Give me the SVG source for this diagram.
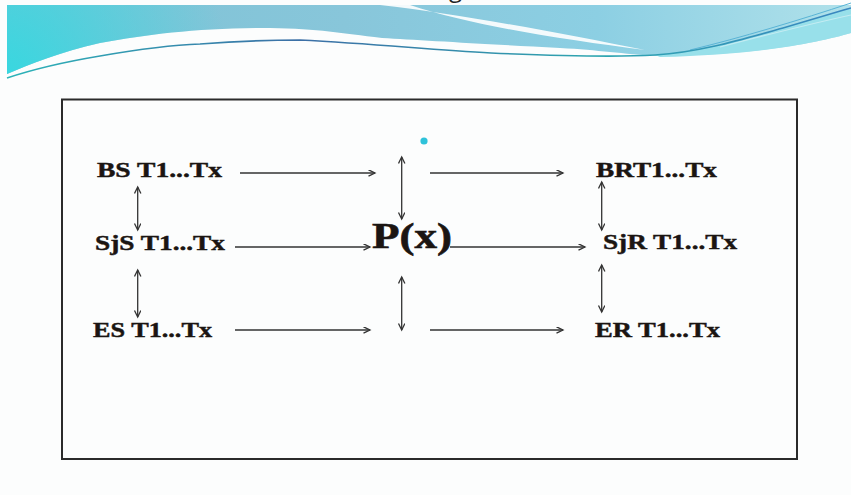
<svg xmlns="http://www.w3.org/2000/svg" width="851" height="495" viewBox="0 0 851 495">
  <defs>
    <linearGradient id="bandFill" x1="0" y1="0" x2="1" y2="0">
      <stop offset="0" stop-color="#7cc2d5"/>
      <stop offset="0.4" stop-color="#88c6da"/>
      <stop offset="0.7" stop-color="#8ccfe3"/>
      <stop offset="1" stop-color="#b0e1ea"/>
    </linearGradient>
    <radialGradient id="cyanGlow" cx="0" cy="80" r="230" gradientUnits="userSpaceOnUse">
      <stop offset="0" stop-color="#36d8e0" stop-opacity="1"/>
      <stop offset="1" stop-color="#36d8e0" stop-opacity="0"/>
    </radialGradient>
    <linearGradient id="lineStroke" x1="0" y1="0" x2="1" y2="0">
      <stop offset="0" stop-color="#2cb4b8"/>
      <stop offset="0.35" stop-color="#3c6fa6"/>
      <stop offset="0.7" stop-color="#2ea6b0"/>
      <stop offset="1" stop-color="#3a86c0"/>
    </linearGradient>
    <marker id="head" markerUnits="userSpaceOnUse" markerWidth="10" markerHeight="9" refX="7" refY="3.5" orient="auto-start-reverse">
      <path d="M0.5,0.3 L7,3.5 L0.5,6.7" fill="none" stroke="#333" stroke-width="1.3"/>
    </marker>
  </defs>
  <style>
    .lbl { font-family: "Liberation Serif", "Times New Roman", serif; font-weight: bold; font-size: 21px; fill: #1b1512; stroke: #1b1512; stroke-width: 0.45; }
    .big { font-family: "Liberation Serif", "Times New Roman", serif; font-weight: bold; font-size: 35px; fill: #1b1512; stroke: #1b1512; stroke-width: 0.6; }
    .arr { stroke: #333; stroke-width: 1.3; fill: none; marker-end: url(#head); }
    .dbl { stroke: #333; stroke-width: 1.3; fill: none; marker-start: url(#head); marker-end: url(#head); }
  </style>

  <rect width="851" height="495" fill="#fcfdfd"/>

  <!-- header swoosh -->
  <g id="banner">
    <text x="449" y="-3" font-family="Open Sans, sans-serif" font-size="24" fill="#222">g</text>
    <path d="M7,5 H851 V33 C820,42 760,55 660,56 C620,54 600,50 560,48 C480,44 420,40 382,38 C340,33 320,29 270,28 C200,28 150,34 100,43 C60,52 30,64 7,74 Z" fill="url(#bandFill)"/>
    <path d="M7,5 H851 V33 C820,42 760,55 660,56 C620,54 600,50 560,48 C480,44 420,40 382,38 C340,33 320,29 270,28 C200,28 150,34 100,43 C60,52 30,64 7,74 Z" fill="url(#cyanGlow)"/>
    <path d="M380,5 C460,14 560,33 645,50 C560,39 470,25 410,5 Z" fill="#ffffff" opacity="0.9"/>
    <path d="M655,55 C700,52 740,40 783,28 C810,20 830,14 851,8 V33 C820,42 760,55 660,57 Z" fill="#98e0ea"/>
    <path d="M690,50 C740,38 800,20 851,3" fill="none" stroke="#5ab4d6" stroke-width="1"/>
    <path d="M720,47 C770,34 810,24 851,15" fill="none" stroke="#c4ecf2" stroke-width="1.2"/>
    <path d="M7,78 C40,67 70,61 100,56 C140,49 170,45 200,44 C240,41 270,40 300,40 C380,44 430,50 491,53 C560,56 620,57 655,55 C700,52 740,40 783,28 C810,20 830,14 851,8" fill="none" stroke="url(#lineStroke)" stroke-width="1.6"/>
  </g>

  <!-- frame -->
  <rect x="62" y="99.5" width="735" height="359.5" fill="none" stroke="#2b2b2b" stroke-width="2"/>
  <circle cx="424" cy="141" r="3.6" fill="#2ec2da"/>

  <g id="node-bs"><text class="lbl" x="97" y="177" textLength="125" lengthAdjust="spacingAndGlyphs">BS T1...Tx</text></g>
  <g id="node-sjs"><text class="lbl" x="95" y="250" textLength="130" lengthAdjust="spacingAndGlyphs">SjS T1...Tx</text></g>
  <g id="node-es"><text class="lbl" x="93" y="337" textLength="119" lengthAdjust="spacingAndGlyphs">ES T1...Tx</text></g>
  <g id="node-px"><text class="big" x="372" y="248" textLength="80" lengthAdjust="spacingAndGlyphs">P(x)</text></g>
  <g id="node-brt"><text class="lbl" x="596" y="177" textLength="121" lengthAdjust="spacingAndGlyphs">BRT1...Tx</text></g>
  <g id="node-sjr"><text class="lbl" x="603" y="248.5" textLength="134" lengthAdjust="spacingAndGlyphs">SjR T1...Tx</text></g>
  <g id="node-er"><text class="lbl" x="595" y="336.5" textLength="125" lengthAdjust="spacingAndGlyphs">ER T1...Tx</text></g>

  <g id="connectors">
    <line class="arr" x1="240" y1="173" x2="375" y2="173"/>
    <line class="arr" x1="430" y1="173" x2="563" y2="173"/>
    <line class="arr" x1="235" y1="247" x2="370" y2="247"/>
    <line class="arr" x1="450" y1="247" x2="585" y2="247"/>
    <line class="arr" x1="235" y1="330" x2="370" y2="330"/>
    <line class="arr" x1="430" y1="330" x2="563" y2="330"/>
    <line class="dbl" x1="137.7" y1="187" x2="137.7" y2="230"/>
    <line class="dbl" x1="137.7" y1="270" x2="137.7" y2="317"/>
    <line class="dbl" x1="401.7" y1="157" x2="401.7" y2="219"/>
    <line class="dbl" x1="401.7" y1="277" x2="401.7" y2="330"/>
    <line class="dbl" x1="601.7" y1="182" x2="601.7" y2="230"/>
    <line class="dbl" x1="601.7" y1="265" x2="601.7" y2="312"/>
  </g>
</svg>
